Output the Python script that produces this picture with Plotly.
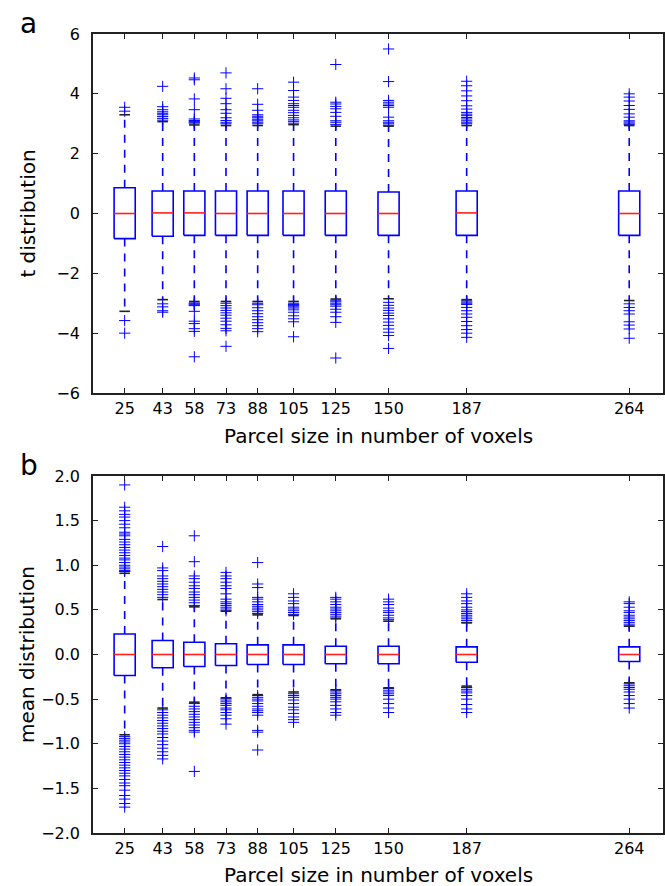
import plotly.graph_objects as go

# ---------------- data ----------------
positions = [25, 43, 58, 73, 88, 105, 125, 150, 187, 264]
tick_labels = ["25", "43", "58", "73", "88", "105", "125", "150", "187", "264"]
x_title = "Parcel size in number of voxels"

# panel a : t distribution
t_q1 = [-0.84, -0.76, -0.73, -0.73, -0.73, -0.73, -0.73, -0.73, -0.73, -0.73]
t_med = [0.0, 0.02, 0.02, 0.0, 0.0, 0.0, 0.0, 0.0, 0.02, 0.0]
t_q3 = [0.86, 0.75, 0.75, 0.75, 0.75, 0.75, 0.75, 0.72, 0.75, 0.75]
t_whi = [3.30, 3.07, 2.96, 2.94, 2.94, 2.97, 2.92, 2.92, 2.94, 2.94]
t_wlo = [-3.27, -2.88, -2.94, -2.94, -2.94, -2.94, -2.86, -2.85, -2.88, -2.91]
t_out = [
    [3.42, 3.55, -3.58, -4.0],
    [3.12, 3.18, 3.24, 3.30, 3.35, 3.40, 3.47, 3.57, 4.25, -3.02, -3.12, -3.25, -3.30],
    [3.02, 3.05, 3.08, 3.11, 3.16, 3.47, 3.83, 4.47, 4.53,
     -2.99, -3.02, -3.05, -3.08, -3.27, -3.6, -3.68, -3.85, -3.94, -4.79],
    [3.0, 3.05, 3.11, 3.2, 3.35, 3.47, 3.67, 3.85, 4.17, 4.70,
     -3.0, -3.08, -3.16, -3.24, -3.32, -3.4, -3.5, -3.6, -3.72, -3.84, -3.92, -4.44],
    [3.0, 3.05, 3.1, 3.15, 3.2, 3.25, 3.3, 3.45, 3.65, 4.17,
     -3.0, -3.05, -3.15, -3.25, -3.35, -3.45, -3.55, -3.65, -3.75, -3.85, -3.95],
    [3.02, 3.08, 3.13, 3.2, 3.28, 3.37, 3.45, 3.55, 3.61, 3.67, 3.78, 3.89, 4.11, 4.39,
     -3.0, -3.04, -3.08, -3.12, -3.16, -3.22, -3.3, -3.42, -3.52, -3.62, -4.12],
    [2.98, 3.05, 3.1, 3.25, 3.38, 3.5, 3.58, 3.66, 3.72, 4.98,
     -2.9, -2.95, -3.0, -3.05, -3.1, -3.2, -3.3, -3.45, -3.64, -4.83],
    [2.95, 3.0, 3.05, 3.1, 3.22, 3.55, 3.61, 3.66, 3.72, 3.78, 4.41, 5.50,
     -2.97, -3.07, -3.16, -3.24, -3.33, -3.41, -3.52, -3.63, -3.74, -3.86, -3.97, -4.08, -4.51],
    [3.0, 3.05, 3.10, 3.16, 3.21, 3.27, 3.32, 3.38, 3.49, 3.60, 3.77, 3.93, 4.10, 4.27, 4.42,
     -2.92, -2.96, -3.0, -3.04, -3.14, -3.25, -3.36, -3.47, -3.61, -3.75, -3.88, -4.0, -4.14],
    [2.98, 3.02, 3.06, 3.1, 3.22, 3.33, 3.48, 3.61, 3.76, 3.89, 4.0,
     -3.02, -3.14, -3.25, -3.36, -3.62, -3.73, -3.86, -4.17],
]

# panel b : mean distribution
m_q1 = [-0.235, -0.149, -0.134, -0.123, -0.112, -0.112, -0.104, -0.104, -0.086, -0.078]
m_med = [0.0, 0.0, 0.0, 0.0, 0.0, 0.0, 0.0, 0.0, 0.0, 0.0]
m_q3 = [0.23, 0.157, 0.138, 0.12, 0.108, 0.108, 0.093, 0.093, 0.086, 0.086]
m_whi = [0.91, 0.616, 0.534, 0.485, 0.444, 0.437, 0.40, 0.373, 0.354, 0.317]
m_wlo = [-0.90, -0.60, -0.534, -0.485, -0.45, -0.42, -0.395, -0.373, -0.354, -0.317]
m_out = [
    [1.90, 1.65, 1.61, 1.57, 1.54, 1.50, 1.46, 1.42, 1.37, 1.35, 1.33, 1.29, 1.26, 1.23,
     1.20, 1.17, 1.14, 1.11, 1.08, 1.06, 1.03, 1.0, 0.98, 0.96, 0.94, 0.93,
     -0.92, -0.94, -0.96, -0.98, -1.0, -1.03, -1.06, -1.09, -1.12, -1.15, -1.18, -1.21,
     -1.24, -1.27, -1.30, -1.33, -1.36, -1.40, -1.44, -1.47, -1.52, -1.58, -1.62, -1.67, -1.71],
    [1.21, 0.97, 0.94, 0.88, 0.85, 0.82, 0.79, 0.76, 0.73, 0.70, 0.67, 0.64,
     -0.62, -0.65, -0.68, -0.71, -0.74, -0.77, -0.80, -0.83, -0.86, -0.89, -0.93, -0.97,
     -1.01, -1.05, -1.09, -1.13, -1.17],
    [1.33, 1.04, 0.88, 0.85, 0.81, 0.77, 0.74, 0.70, 0.67, 0.64, 0.61, 0.58, 0.55,
     -0.55, -0.58, -0.61, -0.64, -0.67, -0.70, -0.73, -0.76, -0.79, -0.82, -0.85, -0.87, -1.31],
    [0.92, 0.88, 0.85, 0.81, 0.77, 0.74, 0.68, 0.62, 0.59, 0.57, 0.55, 0.53, 0.51, 0.49,
     -0.49, -0.51, -0.53, -0.55, -0.57, -0.60, -0.62, -0.65, -0.68, -0.72, -0.78],
    [1.03, 0.79, 0.75, 0.64, 0.62, 0.59, 0.56, 0.54, 0.52, 0.50, 0.48, 0.46,
     -0.46, -0.48, -0.50, -0.52, -0.55, -0.58, -0.61, -0.63, -0.65, -0.68, -0.85, -0.87, -1.07],
    [0.68, 0.64, 0.60, 0.57, 0.53, 0.51, 0.49, 0.47, 0.45,
     -0.44, -0.46, -0.48, -0.51, -0.55, -0.59, -0.62, -0.66, -0.70, -0.73, -0.76],
    [0.64, 0.62, 0.59, 0.56, 0.53, 0.51, 0.49, 0.47, 0.45, 0.43, 0.41,
     -0.40, -0.42, -0.44, -0.46, -0.48, -0.50, -0.53, -0.57, -0.61, -0.65, -0.68],
    [0.62, 0.59, 0.56, 0.52, 0.49, 0.47, 0.44, 0.41, 0.39,
     -0.38, -0.40, -0.42, -0.44, -0.46, -0.50, -0.55, -0.60, -0.65],
    [0.68, 0.64, 0.60, 0.57, 0.53, 0.50, 0.48, 0.46, 0.44, 0.42, 0.40, 0.38, 0.36,
     -0.37, -0.39, -0.41, -0.43, -0.46, -0.50, -0.56, -0.61, -0.65],
    [0.59, 0.57, 0.53, 0.49, 0.47, 0.44, 0.42, 0.40, 0.38, 0.36, 0.34, 0.32,
     -0.33, -0.35, -0.37, -0.39, -0.42, -0.46, -0.50, -0.55, -0.60],
]

# ---------------- style ----------------
BOX_W = 10.0
CAP_W = 5.0
FONT = "DejaVu Sans"
BLUE = "#0000ff"

fig = go.Figure()


def add_panel(q1, med, q3, whi, wlo, outs, xa, ya):
    bx, by, mx, my, wx, wy, cx, cy = [], [], [], [], [], [], [], []
    for p, a, m, b, hi, lo in zip(positions, q1, med, q3, whi, wlo):
        l, r = p - BOX_W / 2, p + BOX_W / 2
        bx += [l, r, r, l, l, None]
        by += [a, a, b, b, a, None]
        mx += [l, r, None]
        my += [m, m, None]
        wx += [p, p, None, p, p, None]
        wy += [b, hi, None, a, lo, None]
        cl, cr = p - CAP_W / 2, p + CAP_W / 2
        cx += [cl, cr, None, cl, cr, None]
        cy += [hi, hi, None, lo, lo, None]
    ox, oy = [], []
    for p, vals in zip(positions, outs):
        ox += [p] * len(vals)
        oy += vals
    common = dict(xaxis=xa, yaxis=ya, showlegend=False, hoverinfo="skip")
    fig.add_trace(go.Scatter(x=wx, y=wy, mode="lines",
                             line=dict(color=BLUE, width=1.6, dash="8px,7px"), **common))
    fig.add_trace(go.Scatter(x=ox, y=oy, mode="markers",
                             marker=dict(symbol="cross-thin", size=8, color=BLUE,
                                         line=dict(color=BLUE, width=1)), **common))
    fig.add_trace(go.Scatter(x=cx, y=cy, mode="lines",
                             line=dict(color="#222222", width=1.6), **common))
    fig.add_trace(go.Scatter(x=bx, y=by, mode="lines",
                             line=dict(color=BLUE, width=1.6), **common))
    fig.add_trace(go.Scatter(x=mx, y=my, mode="lines",
                             line=dict(color="#ff2020", width=1.6), **common))


add_panel(t_q1, t_med, t_q3, t_whi, t_wlo, t_out, "x", "y")
add_panel(m_q1, m_med, m_q3, m_whi, m_wlo, m_out, "x2", "y2")

axis_common = dict(
    showline=True, linecolor="#222222", linewidth=1.5, mirror="allticks",
    ticks="inside", ticklen=5, tickwidth=1, tickcolor="#222222",
    showgrid=False, zeroline=False,
    tickfont=dict(family=FONT, size=16, color="black"),
)
xcommon = dict(axis_common, range=[10, 280], tickmode="array",
               tickvals=positions, ticktext=tick_labels, ticklabelstandoff=0)

PLOT_H = 799  # plot-area height in px (886 - 34 - 53)
title_font = dict(family=FONT, size=20, color="black")

fig.update_layout(
    width=665, height=886,
    margin=dict(l=93, r=2, t=34, b=53, autoexpand=False),
    paper_bgcolor="white", plot_bgcolor="white",
    font=dict(family=FONT, color="black"),
    xaxis=dict(xcommon, anchor="y", domain=[0, 1]),
    yaxis=dict(axis_common, anchor="x", domain=[0.5507, 1], range=[-6, 6],
               tickmode="array", tickvals=[-6, -4, -2, 0, 2, 4, 6],
               ticklabelstandoff=8,
               title=dict(text="t distribution", font=title_font, standoff=15)),
    xaxis2=dict(xcommon, anchor="y2", domain=[0, 1]),
    yaxis2=dict(axis_common, anchor="x2", domain=[0, 0.4468], range=[-2, 2],
                tickmode="array", tickvals=[-2, -1.5, -1, -0.5, 0, 0.5, 1, 1.5, 2],
                tickformat=".1f", ticklabelstandoff=8,
                title=dict(text="mean distribution", font=title_font, standoff=1)),
    annotations=[
        dict(text="a", xref="paper", yref="paper", x=-0.113, y=1.0, xanchor="center",
             yanchor="bottom", yshift=-8, showarrow=False,
             font=dict(family=FONT, size=28, color="black")),
        dict(text="b", xref="paper", yref="paper", x=-0.113, y=0.4468, xanchor="center",
             yanchor="bottom", yshift=-8, showarrow=False,
             font=dict(family=FONT, size=28, color="black")),
        dict(text=x_title, xref="paper", yref="paper", x=0.5, y=(833 - 436) / PLOT_H,
             xanchor="center", yanchor="middle", showarrow=False, font=title_font),
        dict(text=x_title, xref="paper", yref="paper", x=0.5, y=(833 - 875) / PLOT_H,
             xanchor="center", yanchor="middle", showarrow=False, font=title_font),
    ],
)

fig.write_html("out.html", config={"displayModeBar": False},
               post_script="document.body.style.margin='0';document.body.style.overflow='hidden';")
